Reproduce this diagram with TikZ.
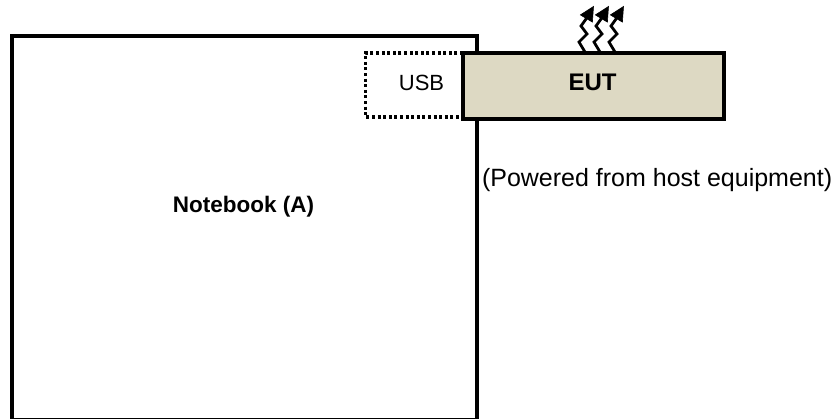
\documentclass[tikz,border=0pt]{standalone}
\usepackage{fontspec}
\setmainfont{Liberation Sans}
\definecolor{eutfill}{HTML}{DDD9C3}
\tikzset{
  box/.style={draw=black, inner sep=0pt, outer sep=0pt},
  lbl/.style={inner sep=0pt, outer sep=0pt, anchor=base},
  wave/.style={line width=2.8pt, black, line join=miter},
  wavehead/.style={fill=black, draw=black, line width=0.6pt, line join=miter},
}
\begin{document}
\begin{tikzpicture}[x=1pt,y=1pt]
\useasboundingbox (0,0) rectangle (838,418);
% notebook
\node[box, line width=3.8pt, minimum width=465pt, minimum height=384pt] (nb) at (244.5,190) {};
\node[lbl, font=\bfseries\fontsize{22.5}{26}\selectfont] (nbt) at (243.5,205) {Notebook (A)};
% dotted usb port
\coordinate (u1) at (463,365);
\coordinate (u2) at (365.5,365);
\coordinate (u3) at (365.5,301);
\coordinate (u4) at (463,301);
\draw[line width=3.2pt, dash pattern=on 3pt off 2.6pt] (u1) -- (u2) -- (u3) -- (u4);
\node[lbl, font=\fontsize{22}{26}\selectfont] (usb) at (421.5,327) {USB};
% EUT
\node[box, fill=eutfill, line width=3.4pt, minimum width=261pt, minimum height=66pt] (eut) at (593.5,332) {};
\node[lbl, font=\bfseries\fontsize{24}{28}\selectfont] (eutt) at (592.5,327) {EUT};
\node[lbl, anchor=base west, font=\fontsize{25}{29}\selectfont] (pw) at (482,231.3) {(Powered from host equipment)};
% emission arrows
\foreach \i/\dx in {1/0,2/15,3/30}{
  \coordinate (s\i) at (585+\dx,366);
  \coordinate (b\i) at (586.4+\dx,399.5);
  \coordinate (t\i) at (593.5+\dx,411.5);
  \draw[wave] (s\i) -- ++(-6,10) -- ++(8,8) -- ++(-6,8) -- (b\i);
  \filldraw[wavehead] (t\i) -- (592.4+\dx,395.9) -- (580.4+\dx,403.1) -- cycle;
}
\end{tikzpicture}
\end{document}
